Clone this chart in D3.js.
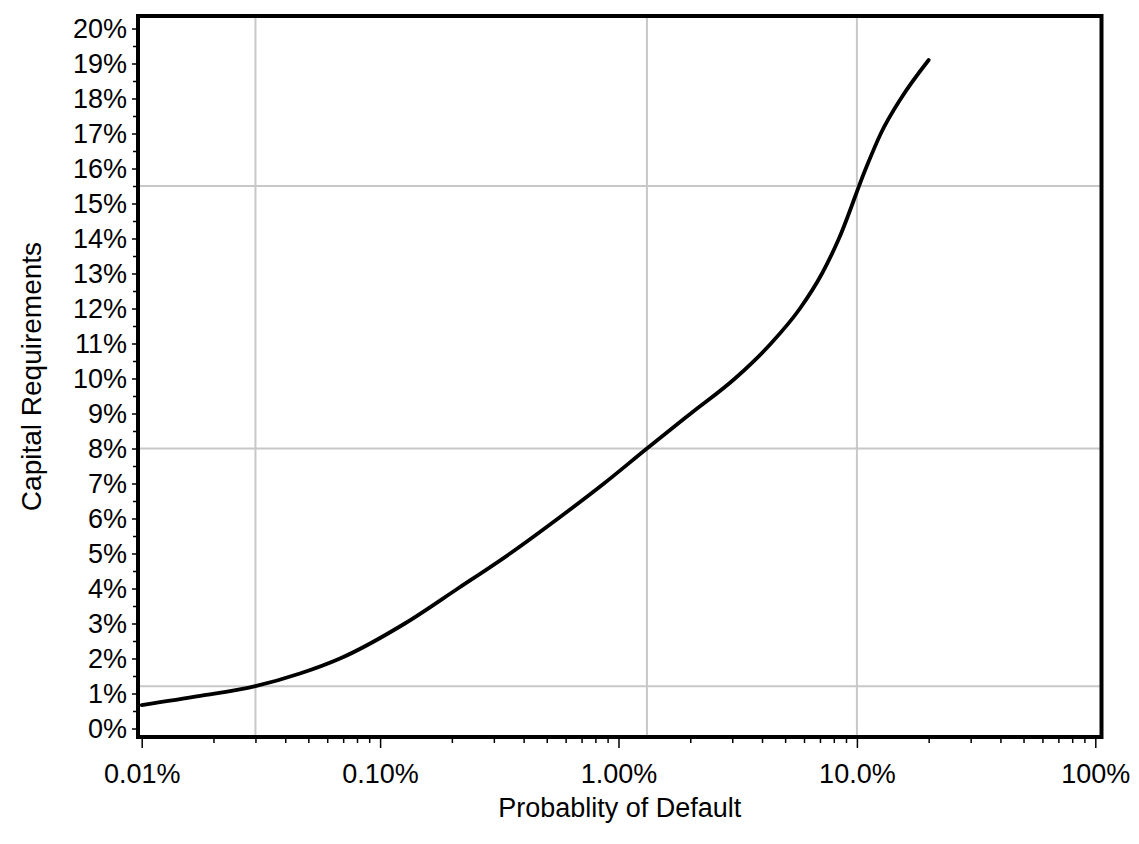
<!DOCTYPE html>
<html>
<head>
<meta charset="utf-8">
<script src="https://cdn.jsdelivr.net/npm/d3@7"></script>
<style>
  html, body { margin: 0; padding: 0; background: #fff; }
  svg text { font-family: "Liberation Sans", Arial, Helvetica, sans-serif; fill: #000; }
</style>
</head>
<body>
<svg id="chart" width="1139" height="844"></svg>
<script>
// ---- data ----
const pdValues  = [0.01, 0.0176, 0.03, 0.0461, 0.0679, 0.127, 0.212, 0.351, 0.558, 0.869, 1.316, 2.01, 3.08, 4.36, 5.77, 7.14, 8.41, 10.9, 12.6, 15.3, 20];
const capValues = [0.67, 0.93, 1.21, 1.57, 2.0, 3.0, 4.0, 5.0, 6.0, 7.0, 8.0, 9.0, 10.0, 11.0, 12.0, 13.0, 14.0, 16.0, 17.0, 18.0, 19.1];
const xTickValues = [0.01, 0.1, 1, 10, 100];
const xTickLabels = ["0.01%", "0.10%", "1.00%", "10.0%", "100%"];
const yTickValues = d3.range(0, 21, 1);
const yTickLabels = yTickValues.map(v => v + "%");
const refPd  = [0.03, 1.316, 10];
const refCap = [1.21, 8.0, 15.5];
const xTitle = "Probablity of Default";
const yTitle = "Capital Requirements";

// ---- layout ----
const svg = d3.select("#chart");
const frame = { left: 138, right: 1101.5, top: 16, bottom: 737 };
const x = d3.scaleLog().domain([0.01, 100]).range([141.7, 1095.3]);
const y = d3.scaleLinear().domain([0, 20]).range([728.5, 28.5]);

// gridlines (reference crosshairs)
const grid = svg.append("g").attr("stroke", "#c8c8c8").attr("stroke-width", 2);
refPd.forEach(v => {
  grid.append("line").attr("x1", x(v)).attr("x2", x(v)).attr("y1", frame.top).attr("y2", frame.bottom);
});
refCap.forEach(v => {
  grid.append("line").attr("x1", frame.left).attr("x2", frame.right).attr("y1", y(v)).attr("y2", y(v));
});

// curve
const pts = pdValues.map((p, i) => [x(p), y(capValues[i])]);
svg.append("path")
  .attr("d", d3.line().curve(d3.curveMonotoneX)(pts))
  .attr("fill", "none")
  .attr("stroke", "#000")
  .attr("stroke-width", 3.8)
  .attr("stroke-linejoin", "round")
  .attr("stroke-linecap", "round");

// x minor ticks
const xMinor = [];
for (let dec = 0.01; dec < 100; dec *= 10) {
  for (let k = 2; k <= 9; k++) xMinor.push(dec * k);
}
const xAxisMinor = d3.axisBottom(x).tickValues(xMinor).tickSize(4).tickFormat("");
const gxm = svg.append("g").attr("transform", `translate(0,${frame.bottom + 2})`).call(xAxisMinor);
gxm.select(".domain").remove();
gxm.selectAll("line").attr("stroke", "#000").attr("stroke-width", 1.5);

const xAxis = d3.axisBottom(x).tickValues(xTickValues).tickSize(9).tickPadding(16)
  .tickFormat((d, i) => xTickLabels[i]);
const gx = svg.append("g").attr("transform", `translate(0,${frame.bottom + 2})`).call(xAxis);
gx.select(".domain").remove();
gx.selectAll("line").attr("stroke", "#000").attr("stroke-width", 1.5);
gx.selectAll("text").attr("font-size", 27).attr("font-family", "Liberation Sans, Arial, sans-serif");

// y minor ticks
const yMinor = d3.range(0.5, 20, 1);
const yAxisMinor = d3.axisLeft(y).tickValues(yMinor).tickSize(3).tickFormat("");
const gym = svg.append("g").attr("transform", `translate(${frame.left - 2},0)`).call(yAxisMinor);
gym.select(".domain").remove();
gym.selectAll("line").attr("stroke", "#000").attr("stroke-width", 1.5);

const yAxis = d3.axisLeft(y).tickValues(yTickValues).tickSize(4).tickPadding(5)
  .tickFormat((d, i) => yTickLabels[i]);
const gy = svg.append("g").attr("transform", `translate(${frame.left - 2},0)`).call(yAxis);
gy.select(".domain").remove();
gy.selectAll("line").attr("stroke", "#000").attr("stroke-width", 1.5);
gy.selectAll("text").attr("font-size", 27).attr("font-family", "Liberation Sans, Arial, sans-serif");

// frame
svg.append("rect")
  .attr("x", frame.left).attr("y", frame.top)
  .attr("width", frame.right - frame.left).attr("height", frame.bottom - frame.top)
  .attr("fill", "none").attr("stroke", "#000").attr("stroke-width", 4);

// titles
svg.append("text")
  .attr("x", (frame.left + frame.right) / 2).attr("y", 817)
  .attr("text-anchor", "middle").attr("font-size", 27)
  .text(xTitle);
svg.append("text")
  .attr("transform", `translate(41,${(frame.top + frame.bottom) / 2}) rotate(-90)`)
  .attr("text-anchor", "middle").attr("font-size", 28)
  .text(yTitle);
</script>
</body>
</html>
